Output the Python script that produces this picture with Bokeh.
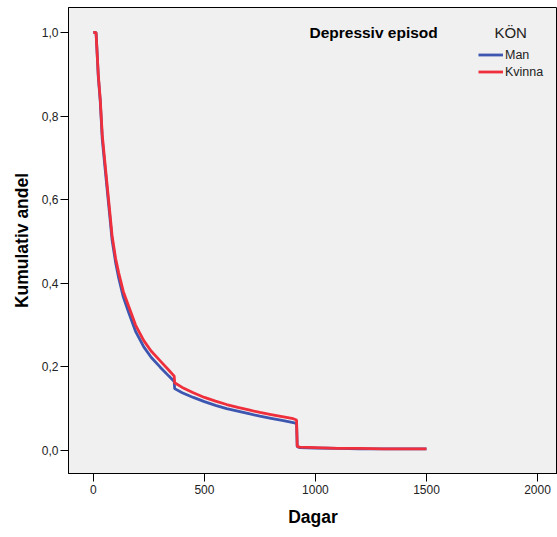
from bokeh.plotting import figure
from bokeh.models import Range1d, FixedTicker, CustomJSTickFormatter, Label, Legend, LegendItem
from bokeh.embed import file_html
from bokeh.resources import INLINE

# ---- data ----
days = [0, 12, 17, 22, 31, 40, 50, 61, 75, 84, 100, 114, 135, 159, 190, 227, 260, 300,
        340, 364, 366, 400, 450, 500, 550, 600, 650, 700, 750, 800, 850, 900, 915, 918,
        930, 1000, 1100, 1200, 1300, 1400, 1500]
kvinna = [1.0, 1.0, 0.95, 0.90, 0.84, 0.755, 0.70, 0.64, 0.565, 0.515, 0.46, 0.425, 0.38,
          0.345, 0.30, 0.263, 0.238, 0.215, 0.192, 0.178, 0.162, 0.151, 0.138, 0.127, 0.118,
          0.11, 0.103, 0.097, 0.091, 0.086, 0.081, 0.076, 0.073, 0.010, 0.008, 0.007,
          0.005, 0.005, 0.004, 0.004, 0.004]
man = [1.0, 1.0, 0.95, 0.895, 0.835, 0.745, 0.69, 0.63, 0.555, 0.505, 0.45, 0.413, 0.367,
       0.33, 0.285, 0.248, 0.223, 0.2, 0.178, 0.165, 0.148, 0.138, 0.127, 0.117, 0.108,
       0.10, 0.094, 0.088, 0.082, 0.077, 0.072, 0.067, 0.064, 0.009, 0.007, 0.006,
       0.005, 0.004, 0.004, 0.004, 0.004]
x_ticks = [0, 500, 1000, 1500, 2000]
y_ticks = [0.0, 0.2, 0.4, 0.6, 0.8, 1.0]
series_names = ["Man", "Kvinna"]
title_text = "Depressiv episod"
legend_title = "KÖN"
x_label = "Dagar"
y_label = "Kumulativ andel"

FONT = "Liberation Sans"
BLUE = "#3d56b0"
RED = "#ef2f3c"

p = figure(width=557, height=537, frame_width=489, frame_height=466,
           output_backend="svg", toolbar_location=None,
           x_range=Range1d(-112, 2090), y_range=Range1d(-0.055, 1.0598),
           min_border_left=68, min_border_top=7, min_border_right=0, min_border_bottom=64)
p.background_fill_color = "#f0f0f0"
p.border_fill_color = "white"
p.outline_line_color = "black"
p.outline_line_width = 1
p.grid.visible = False

r_man = p.line(days, man, line_color=BLUE, line_width=2.8)
r_kv = p.line(days, kvinna, line_color=RED, line_width=2.8)

for ax in (p.xaxis[0], p.yaxis[0]):
    ax.axis_line_color = "black"
    ax.major_tick_line_color = "black"
    ax.major_tick_out = 8
    ax.major_tick_in = 0
    ax.minor_tick_line_color = None
    ax.major_label_text_font = FONT
    ax.major_label_text_font_size = "12px"
    ax.major_label_text_color = "#222222"
    ax.axis_label_text_font = FONT
    ax.axis_label_text_font_style = "bold"
    ax.axis_label_text_color = "black"
    ax.axis_label_text_font_size = "17.5px"

p.xaxis.ticker = FixedTicker(ticks=x_ticks)
p.yaxis.ticker = FixedTicker(ticks=y_ticks)
p.yaxis.formatter = CustomJSTickFormatter(code="return tick.toFixed(1).replace('.', ',');")
p.xaxis.axis_label = x_label
p.yaxis.axis_label = y_label
p.xaxis.major_label_standoff = 3
p.yaxis.major_label_standoff = 2
p.xaxis.axis_label_standoff = 10
p.yaxis.axis_label_standoff = 7

p.add_layout(Label(x=973, y=1.0, text=title_text, text_font=FONT, text_font_style="bold",
                   text_font_size="15.5px", text_baseline="middle", text_color="black"))
p.add_layout(Label(x=1806, y=1.0, text=legend_title, text_font=FONT,
                   text_font_size="15px", text_baseline="middle", text_color="#222222"))

legend = Legend(items=[LegendItem(label=series_names[0], renderers=[r_man]),
                       LegendItem(label=series_names[1], renderers=[r_kv])],
                location=(410, 393), orientation="vertical",
                background_fill_alpha=0, border_line_color=None,
                padding=0, margin=0, spacing=0,
                glyph_width=25, glyph_height=17, label_height=17, label_standoff=2,
                label_text_font=FONT, label_text_font_size="12.5px", label_text_color="#222222")
p.add_layout(legend)

open("out.html", "w").write(file_html(p, INLINE))
